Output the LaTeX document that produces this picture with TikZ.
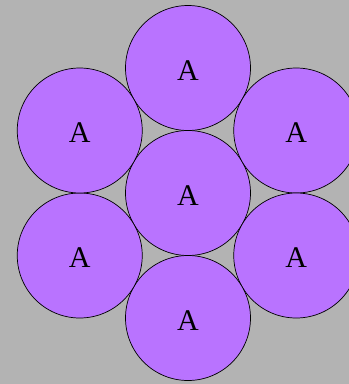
\documentclass[tikz,border=0pt]{standalone}
\usepackage{fontspec}
\setmainfont{Liberation Serif}
\definecolor{bgcol}{HTML}{B3B3B3}
\definecolor{cellcol}{HTML}{B973FF}
\tikzstyle{cell}=[shape=circle, minimum size=125pt, inner sep=0, draw=black, line width=0.7pt, fill=cellcol, font=\fontsize{30}{30}\selectfont, text height=24pt, text depth=0pt]

\begin{document}
\begin{tikzpicture}[x=1pt,y=-1pt]
\useasboundingbox (0,0) rectangle (349,384);
\fill[bgcol] (0,0) rectangle (349,384);
\node[cell] (C) at (188,193) {A};
\foreach \x in {0,...,5}
{
\draw (C) + (90-360/6*\x:125pt) node[cell] (A\x) {A};
}
\end{tikzpicture}
\end{document}
